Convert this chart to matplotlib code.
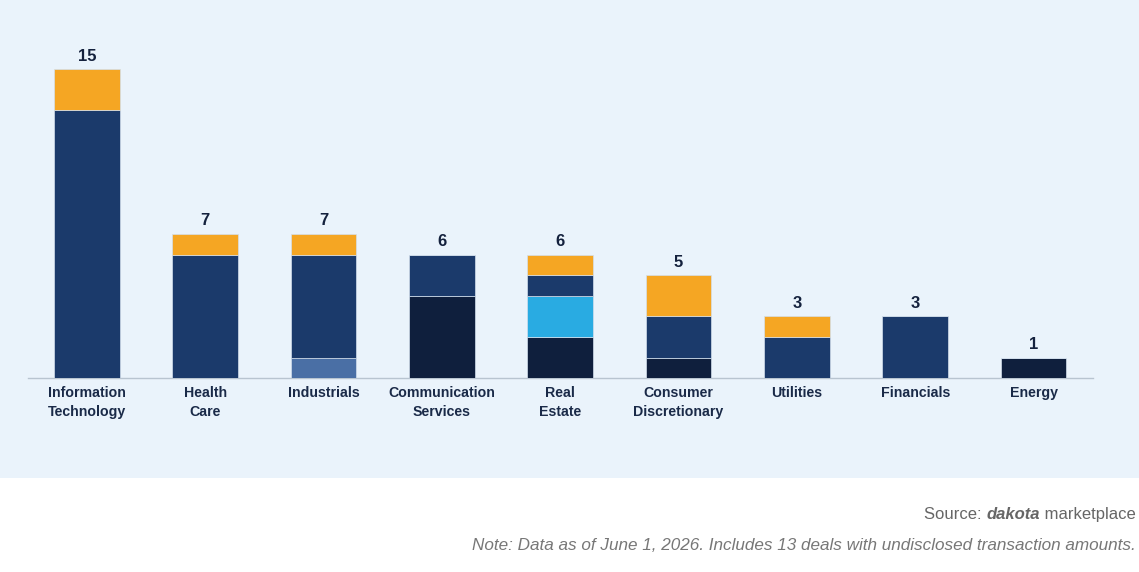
import matplotlib.pyplot as plt
from matplotlib.patches import Rectangle

# ===============================
# Data
# ===============================
sectors = ["Information\nTechnology", "Health\nCare", "Industrials", "Communication\nServices",
           "Real\nEstate", "Consumer\nDiscretionary", "Utilities", "Financials", "Energy"]

# stacked segments, bottom to top
darkest = [0, 0, 0, 4, 2, 1, 0, 0, 1]
medium = [0, 0, 1, 0, 0, 0, 0, 0, 0]
cyan = [0, 0, 0, 0, 2, 0, 0, 0, 0]
navy = [13, 6, 5, 2, 1, 2, 2, 3, 0]
orange = [2, 1, 1, 0, 1, 2, 1, 0, 0]

series = [darkest, medium, cyan, navy, orange]
colors = ["#0f1f3d", "#4a6fa5", "#29abe2", "#1b3a6b", "#f5a623"]

# ===============================
# Figure
# ===============================
plt.rcParams["font.family"] = ["Liberation Sans", "DejaVu Sans"]
fig = plt.figure(figsize=(11.39, 5.72), dpi=100)
fig.patch.set_facecolor("white")
fig.patches.append(Rectangle((0, 0.164), 1, 0.836, transform=fig.transFigure,
                             facecolor="#eaf3fb", edgecolor="none", zorder=-5))

ax = fig.add_axes([0.0244, 0.339, 0.935, 0.612])
ax.set_facecolor("none")

x = list(range(len(sectors)))
bottom = [0] * len(sectors)
for vals, col in zip(series, colors):
    ax.bar(x, vals, bottom=bottom, width=0.555, color=col,
           edgecolor="#d3dfec", linewidth=0.5, zorder=3)
    bottom = [b + v for b, v in zip(bottom, vals)]

for i, total in enumerate(bottom):
    ax.annotate(str(total), (i, total), xytext=(0, 4), textcoords="offset points",
                ha="center", va="bottom", fontsize=12, fontweight="bold", color="#14213d")

ax.set_xlim(-0.5, 8.5)
ax.set_ylim(0, 17)
ax.set_xticks(x)
ax.set_xticklabels(sectors, fontsize=10.2, fontweight="bold", color="#1a2a48", linespacing=1.45)
ax.tick_params(axis="x", length=0, pad=6)
ax.set_yticks([])
for s in ["top", "right", "left"]:
    ax.spines[s].set_visible(False)
ax.spines["bottom"].set_color("#b8c4d0")
ax.spines["bottom"].set_linewidth(1)

# ===============================
# Source / note
# ===============================
t1 = fig.text(0.997, 0.101, " marketplace", ha="right", va="center", fontsize=12, color="#666666")
a1 = ax.annotate("dakota", xy=(0, 0.5), xycoords=t1, ha="right", va="center",
                 fontsize=12, color="#666666", fontweight="bold", style="italic")
ax.annotate("Source: ", xy=(0, 0.5), xycoords=a1, ha="right", va="center",
            fontsize=12, color="#666666")
fig.text(0.997, 0.047, "Note: Data as of June 1, 2026. Includes 13 deals with undisclosed transaction amounts.",
         ha="right", va="center", fontsize=12.3, color="#777777", style="italic")

fig.savefig("out.png", dpi=100, facecolor=fig.get_facecolor())
